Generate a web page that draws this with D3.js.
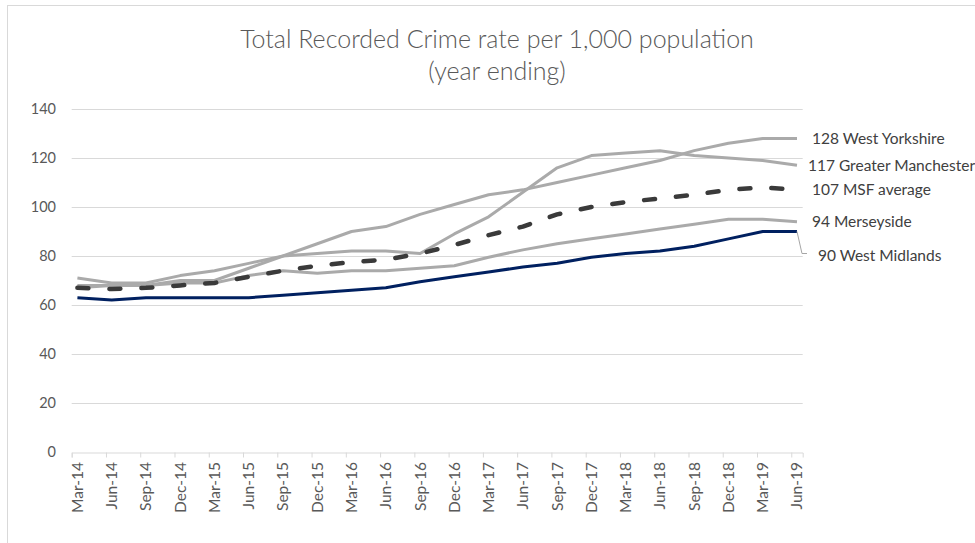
<!DOCTYPE html>
<html lang="en">
<head>
    <meta charset="UTF-8" />
    <title>Total Recorded Crime rate per 1,000 population</title>
    <script src="https://d3js.org/d3.v7.min.js"></script>
    <style>
        body {
            margin: 0;
            background: #fff;
            font-family: Lato, "Open Sans", sans-serif;
        }
        .grid line { stroke: #d9d9d9; }
        .axis path, .axis line { stroke: #d9d9d9; }
    </style>
</head>
<body>
    <svg id="chart" width="975" height="543"></svg>

    <script>
        // quarters (year ending)
        const categories = ["Mar-14","Jun-14","Sep-14","Dec-14","Mar-15","Jun-15","Sep-15","Dec-15",
            "Mar-16","Jun-16","Sep-16","Dec-16","Mar-17","Jun-17","Sep-17","Dec-17",
            "Mar-18","Jun-18","Sep-18","Dec-18","Mar-19","Jun-19"];

        const westYorkshire = [71,69,69,72,74,77,80,85,90,92,97,101,105,107,110,113,116,119,123,126,128,128];
        const greaterManchester = [67,68,68,70,70,75,80,81,82,82,81,89,96,106,116,121,122,123,121,120,119,117];
        const merseyside = [68,68,68,69,69,72,74,73,74,74,75,76,79.5,82.5,85,87,89,91,93,95,95,94];
        const westMidlands = [63,62,63,63,63,63,64,65,66,67,69.5,71.5,73.5,75.5,77,79.5,81,82,84,87,90,90];
        const msfAverage = [67,66.5,67,68,69,71.5,74,76,77.5,78.5,81,84.5,88.5,92,97,100,102,103.5,105,107,108,107];

        const yTicks = [0,20,40,60,80,100,120,140];

        const series = [
            { name: "West Yorkshire", values: westYorkshire, color: "#aaaaaa", width: 3, dash: null, lx: 15, ly: 0 },
            { name: "Greater Manchester", values: greaterManchester, color: "#aaaaaa", width: 3, dash: null, lx: 11, ly: 0 },
            { name: "Merseyside", values: merseyside, color: "#aaaaaa", width: 3, dash: null, lx: 15, ly: 0 },
            { name: "West Midlands", values: westMidlands, color: "#002060", width: 3, dash: null, lx: 21, ly: 24 },
            { name: "MSF average", values: msfAverage, color: "#3a3a3a", width: 4.5, dash: "11 21", lx: 15, ly: 0 }
        ];

        const svg = d3.select("#chart");

        // chart frame (only left/top visible)
        svg.append("rect")
            .attr("x", 7.5).attr("y", 5.5)
            .attr("width", 1000).attr("height", 600)
            .attr("fill", "none").attr("stroke", "#d9d9d9");

        // monthly date axis, points sit in the middle of their month
        const nMonths = (categories.length - 1) * 3 + 1;
        const x = d3.scaleLinear().domain([0, nMonths]).range([71.7, 802.7]);
        const y = d3.scaleLinear().domain([0, 140]).range([452, 109]);
        const px = i => x(i * 3 + 0.5);

        // title
        const title = svg.append("text")
            .attr("x", 497).attr("y", 48)
            .attr("text-anchor", "middle")
            .attr("fill", "#595959")
            .style("font-size", "25px")
            .style("font-weight", 300);
        title.append("tspan").attr("x", 497).text("Total Recorded Crime rate per 1,000 population");
        title.append("tspan").attr("x", 497).attr("dy", 32).text("(year ending)");

        // gridlines
        svg.append("g").attr("class", "grid")
            .selectAll("line")
            .data(yTicks.filter(d => d > 0))
            .join("line")
            .attr("x1", x(0)).attr("x2", x(nMonths))
            .attr("y1", d => Math.round(y(d)) + 0.5)
            .attr("y2", d => Math.round(y(d)) + 0.5);

        // y labels
        svg.append("g")
            .selectAll("text")
            .data(yTicks)
            .join("text")
            .attr("x", 56)
            .attr("y", d => y(d))
            .attr("dy", "0.35em")
            .attr("text-anchor", "end")
            .attr("fill", "#595959")
            .style("font-size", "14.5px")
            .text(d => d);

        // x axis: tick marks at quarter starts
        svg.append("g")
            .attr("class", "axis")
            .attr("transform", `translate(0,${Math.round(y(0)) + 0.5})`)
            .call(d3.axisBottom(x)
                .tickValues(d3.range(categories.length).map(i => i * 3))
                .tickSize(5)
                .tickFormat(""));

        svg.append("g")
            .selectAll("text")
            .data(categories)
            .join("text")
            .attr("transform", (d, i) => `translate(${px(i)},462) rotate(-90)`)
            .attr("text-anchor", "end")
            .attr("dy", "0.35em")
            .attr("fill", "#595959")
            .style("font-size", "15.5px")
            .text(d => d);

        // lines
        const line = d3.line()
            .x((d, i) => px(i))
            .y(d => y(d));

        svg.append("g")
            .selectAll("path")
            .data(series)
            .join("path")
            .attr("d", d => line(d.values))
            .attr("fill", "none")
            .attr("stroke", d => d.color)
            .attr("stroke-width", d => d.width)
            .attr("stroke-linejoin", "round")
            .attr("stroke-linecap", d => d.dash ? "round" : "butt")
            .attr("stroke-dasharray", d => d.dash);

        // end labels
        const last = categories.length - 1;
        const wm = series.find(s => s.name === "West Midlands");
        svg.append("path")
            .attr("d", `M${px(last)},${y(wm.values[last])} L${px(last) + 5},${y(wm.values[last]) + wm.ly - 2} H${px(last) + 10}`)
            .attr("fill", "none")
            .attr("stroke", "#a6a6a6")
            .attr("stroke-width", 1);

        svg.append("g")
            .selectAll("text")
            .data(series)
            .join("text")
            .attr("x", d => px(last) + d.lx)
            .attr("y", d => y(d.values[last]) + d.ly)
            .attr("dy", "0.35em")
            .attr("fill", "#404040")
            .style("font-size", "15.5px")
            .text(d => `${Math.round(d.values[last])} ${d.name}`);
    </script>
</body>
</html>
